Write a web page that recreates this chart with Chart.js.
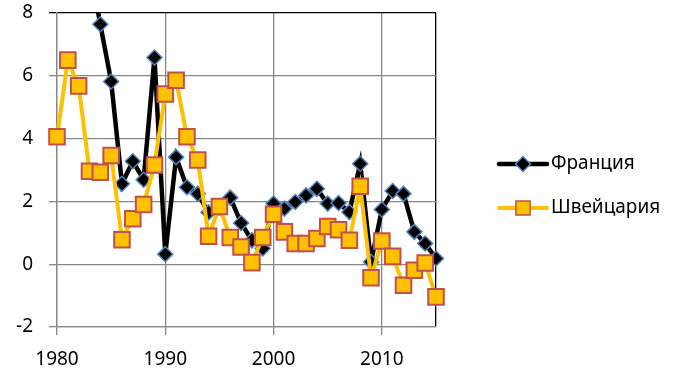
<!DOCTYPE html>
<html>
<head>
<meta charset="utf-8">
<script src="https://cdn.jsdelivr.net/npm/chart.js@4/dist/chart.umd.min.js"></script>
<style>
  html, body { margin: 0; padding: 0; background: #fff; }
  #wrap { width: 681px; height: 383px; }
</style>
</head>
<body>
<div id="wrap"><canvas id="chart" width="681" height="383"></canvas></div>
<script>
// Данные
const years = [1980, 1981, 1982, 1983, 1984, 1985, 1986, 1987, 1988, 1989,
               1990, 1991, 1992, 1993, 1994, 1995, 1996, 1997, 1998, 1999,
               2000, 2001, 2002, 2003, 2004, 2005, 2006, 2007, 2008, 2009,
               2010, 2011, 2012, 2013, 2014, 2015];
const france = [13.6, 13.4, 11.8, 9.5, 7.64, 5.82, 2.56, 3.28, 2.69, 6.58,
                0.32, 3.41, 2.45, 2.24, 1.65, 1.8, 2.12, 1.31, 0.76, 0.5,
                1.93, 1.77, 1.98, 2.19, 2.4, 1.93, 1.95, 1.66, 3.2, 0.07,
                1.74, 2.33, 2.24, 1.03, 0.66, 0.18];
const swiss = [4.06, 6.5, 5.68, 2.96, 2.93, 3.46, 0.78, 1.45, 1.9, 3.16,
               5.42, 5.86, 4.06, 3.32, 0.89, 1.84, 0.85, 0.55, 0.05, 0.85,
               1.59, 1.03, 0.66, 0.66, 0.82, 1.2, 1.1, 0.76, 2.48, -0.43,
               0.74, 0.25, -0.67, -0.19, 0.04, -1.04];
const seriesNames = ['Франция', 'Швейцария'];
const xTicks = [1980, 1990, 2000, 2010, 2015];

const FONT = '"Noto Sans", "Open Sans", sans-serif';
const GRID = '#878787';

function toPoints(values) {
    return years.map((y, i) => ({ x: y, y: values[i] }));
}

// Легенда справа: линия + маркер + текст
const sideLegend = {
    id: 'sideLegend',
    afterDraw(chart) {
        const ctx = chart.ctx;
        const items = [
            { y: 164, ds: chart.data.datasets[0] },
            { y: 208, ds: chart.data.datasets[1] }
        ];
        ctx.save();
        items.forEach(item => {
            const ds = item.ds;
            ctx.strokeStyle = ds.borderColor;
            ctx.lineWidth = ds.borderWidth;
            ctx.lineCap = 'round';
            ctx.beginPath();
            ctx.moveTo(499, item.y);
            ctx.lineTo(547, item.y);
            ctx.stroke();
            ctx.fillStyle = ds.pointBackgroundColor;
            ctx.strokeStyle = ds.pointBorderColor;
            ctx.lineWidth = 1.5;
            Chart.helpers.drawPoint(ctx, {
                pointStyle: ds.pointStyle,
                radius: ds.pointStyle === 'rect' ? 10 : 7.5,
                borderWidth: 1.5
            }, 523, item.y);
            ctx.fillStyle = '#000';
            ctx.font = '19px ' + FONT;
            ctx.textBaseline = 'middle';
            ctx.textAlign = 'left';
            ctx.fillText(ds.label, 551, item.y);
        });
        ctx.restore();
    }
};

const ctx = document.getElementById('chart').getContext('2d');
new Chart(ctx, {
    type: 'line',
    data: {
        datasets: [{
            label: seriesNames[0],
            data: toPoints(france),
            borderColor: '#000000',
            borderWidth: 4.5,
            pointStyle: 'rectRot',
            pointRadius: 7.5,
            pointBackgroundColor: '#000000',
            pointBorderColor: '#4F81BD',
            pointBorderWidth: 1.5,
            tension: 0,
            order: 2,
            clip: { left: 14, right: 14, top: 0, bottom: 14 }
        }, {
            label: seriesNames[1],
            data: toPoints(swiss),
            borderColor: '#FFC000',
            borderWidth: 4,
            pointStyle: 'rect',
            pointRadius: 11,
            pointBackgroundColor: '#FFC000',
            pointBorderColor: '#C0504D',
            pointBorderWidth: 2,
            tension: 0,
            order: 1,
            clip: { left: 14, right: 14, top: 0, bottom: 14 }
        }]
    },
    options: {
        responsive: false,
        animation: false,
        layout: { padding: { left: 0, right: 245, top: 12, bottom: 0 } },
        plugins: {
            legend: { display: false },
            tooltip: { enabled: false }
        },
        scales: {
            x: {
                type: 'linear',
                min: 1980,
                max: 2015,
                afterBuildTicks(scale) {
                    scale.ticks = xTicks.map(v => ({ value: v }));
                },
                afterFit(scale) {
                    scale.height = 56;
                    scale.paddingLeft = 0;
                    scale.paddingRight = 0;
                },
                grid: {
                    color: c => c.tick && c.tick.value === 2015 ? '#000' : GRID,
                    tickColor: c => c.tick && c.tick.value === 2015 ? 'rgba(0,0,0,0)' : GRID,
                    lineWidth: 1.3,
                    tickLength: 8
                },
                border: { color: GRID, width: 1.3 },
                ticks: {
                    color: '#000',
                    font: { family: FONT, size: 19 },
                    padding: 13,
                    maxRotation: 0,
                    callback: v => v === 2015 ? '' : String(v)
                }
            },
            y: {
                min: -2,
                max: 8,
                afterFit(scale) {
                    scale.width = 57;
                    scale.paddingTop = 0;
                    scale.paddingBottom = 0;
                },
                ticks: {
                    stepSize: 2,
                    color: '#000',
                    font: { family: FONT, size: 19 },
                    padding: 16
                },
                grid: {
                    color: c => c.tick && c.tick.value === 8 ? '#000' : GRID,
                    tickColor: c => c.tick && c.tick.value === 8 ? '#000' : GRID,
                    lineWidth: 1.3,
                    tickLength: 8
                },
                border: { color: GRID, width: 1.3 }
            }
        }
    },
    plugins: [sideLegend]
});
</script>
</body>
</html>
